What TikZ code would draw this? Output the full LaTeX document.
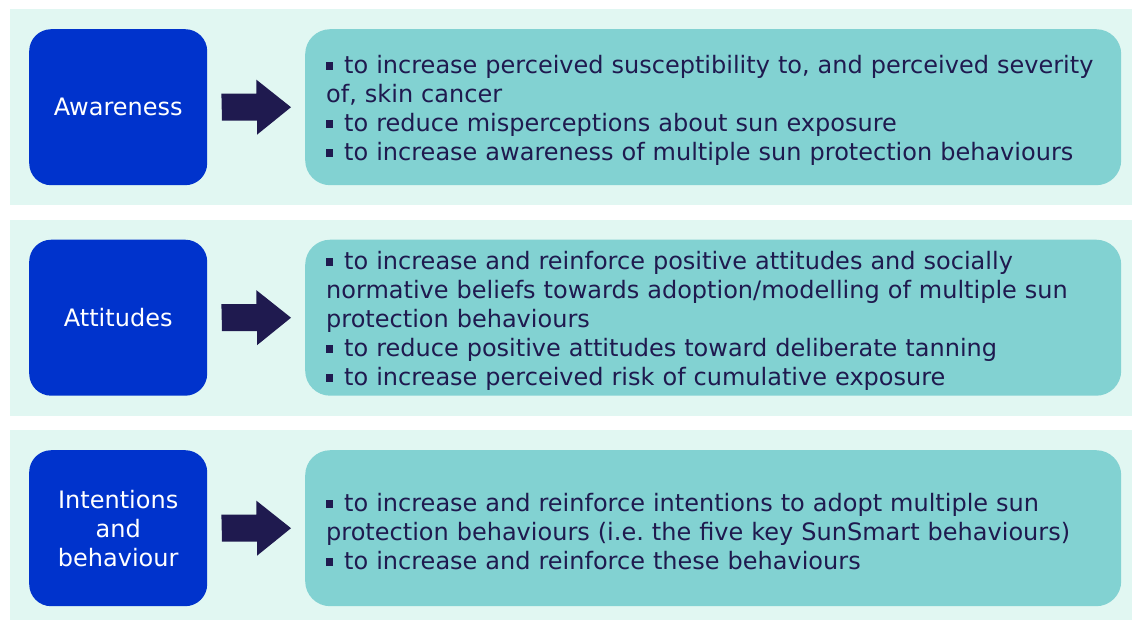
\documentclass[tikz,border=0pt]{standalone}
\usepackage{fontspec}
\setmainfont{DejaVu Sans}
\usepackage{tikz}
\usetikzlibrary{positioning,calc}
\frenchspacing

\definecolor{bandbg}{RGB}{225,247,242}
\definecolor{stageblue}{RGB}{0,51,204}
\definecolor{aimteal}{RGB}{130,210,210}
\definecolor{navy}{RGB}{31,26,79}

\begin{document}
\begin{tikzpicture}[x=1pt,y=-1pt]
	
		\tikzset{bandstyle/.style={fill=bandbg, draw=none}}
		\tikzset{stagestyle/.style={fill=stageblue, rounded corners=22pt, minimum width=178pt, minimum height=156pt, inner sep=0pt, text=white, align=center, font=\fontsize{24}{29}\selectfont}}
		\tikzset{aimstyle/.style={fill=aimteal, rounded corners=25pt, minimum width=816pt, minimum height=156pt, inner sep=0pt}}
		\tikzset{aimtext/.style={inner sep=0pt, text width=774pt, text=navy, align=left, font=\fontsize{24}{29}\selectfont}}
		\tikzset{arrowstyle/.style={fill=navy}}
		
		\newcommand\bul{\rule[3.5pt]{7pt}{7.5pt}\hspace{11pt}}
		
		\newcommand\makeRow[4] % {name}{top}{stage}{aims}
		{
			\fill[bandstyle] (10,#2) rectangle (1132,#2+196);
			\node[stagestyle, anchor=north west] at (29,#2+20) (s#1) {#3};
			\node[aimstyle, anchor=north west] at (305,#2+20) (a#1) {};
			\node[aimtext, yshift=-3pt] at (a#1.center) (t#1) {#4};
			\fill[arrowstyle] ([xshift=14pt]s#1.east) ++(0,-13.5) -- ++(35,0) -- ++(0,-14)
				-- ([xshift=-14pt]a#1.west) -- ++(-34,27.5) -- ++(0,-14) -- ++(-35,0) -- cycle;
		}
		
		\fill[white] (0,0) rectangle (1132,619);
		\useasboundingbox (0,0) rectangle (1132,619);
		
		\makeRow{1}{9}{Awareness}{\bul to increase perceived susceptibility to, and perceived severity\\ of, skin cancer\\ \bul to reduce misperceptions about sun exposure\\ \bul to increase awareness of multiple sun protection behaviours}
		\makeRow{2}{219.5}{Attitudes}{\bul to increase and reinforce positive attitudes and socially\\ normative beliefs towards adoption/modelling of multiple sun\\ protection behaviours\\ \bul to reduce positive attitudes toward deliberate tanning\\ \bul to increase perceived risk of cumulative exposure}
		\makeRow{3}{430}{Intentions\\ and\\ behaviour}{\bul to increase and reinforce intentions to adopt multiple sun\\ protection behaviours (i.e. the five key SunSmart behaviours)\\ \bul to increase and reinforce these behaviours}
		
	\end{tikzpicture}
\end{document}
